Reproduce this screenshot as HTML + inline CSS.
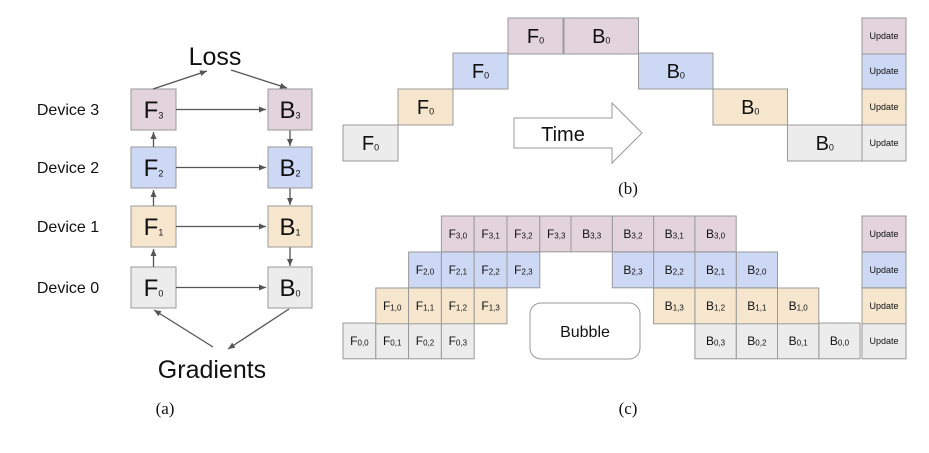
<!DOCTYPE html>
<html><head><meta charset="utf-8"><style>
html,body{margin:0;padding:0;background:#fff;}
svg{display:block;font-family:"Liberation Sans",sans-serif;}
</style></head><body>
<svg id="fig" width="929" height="453" viewBox="0 0 929 453" xmlns="http://www.w3.org/2000/svg">
<defs>
<marker id="ah" markerWidth="8" markerHeight="8" refX="7" refY="4" orient="auto" markerUnits="userSpaceOnUse">
<path d="M0,1 L7,4 L0,7 Z" fill="#555"/></marker>
</defs>
<g id="pa"></g>
<g id="pb"></g>
<g id="pc"></g>
</svg>
<script>
const NS="http://www.w3.org/2000/svg";
const colors=["#ececec","#f5e6cd","#ccd8f4","#e3d3dd"];
const devices=[0,1,2,3];
const microbatches=[0,1,2,3];
const fontFam='"Liberation Sans",sans-serif';

function mk(tag,attrs,parent){const e=document.createElementNS(NS,tag);for(const k in attrs)e.setAttribute(k,attrs[k]);parent.appendChild(e);return e;}
function box(parent,x,y,w,h,fill,letter,sub,fs,sfs,name){
  const g=mk('g',{},parent);
  
  
  mk('rect',{x:x,y:y,width:w,height:h,fill:fill,stroke:'#9a9a9a','stroke-width':1},g);
  const t=mk('text',{x:x+w/2,y:y+h/2+fs*0.36,'text-anchor':'middle','font-size':fs,fill:'#111'},g);
  t.appendChild(document.createTextNode(letter));
  if(sub!==null){const s=mk('tspan',{'font-size':sfs,dy:fs*0.02},t);s.textContent=sub;}
  return g;
}
function txt(parent,x,y,s,fs,anchor,name,fam){
  const t=mk('text',{x:x,y:y,'font-size':fs,'text-anchor':anchor||'middle',fill:'#111'},parent);
  if(fam)t.setAttribute('font-family',fam);
  
  
  t.textContent=s;return t;
}
function arrow(parent,x1,y1,x2,y2,name){
  const l=mk('line',{x1:x1,y1:y1,x2:x2,y2:y2,stroke:'#555','stroke-width':1.3,'marker-end':'url(#ah)'},parent);
  
  
}

/* Panel a */
const pa=document.getElementById('pa');
const aRowTop=[267,206,147,89];
for(const d of devices){
  const y=aRowTop[d];
  txt(pa,68,y+26,'Device '+d,16,'middle','device-'+d+'-label');
  box(pa,131,y,45,41,colors[d],'F',String(d),24,9,'forward-box-'+d);
  box(pa,268,y,44,41,colors[d],'B',String(d),24,9,'backward-box-'+d);
  arrow(pa,176,y+20.5,266,y+20.5,'f-to-b-arrow-'+d);
  if(d<3){
    arrow(pa,153.5,y,153.5,aRowTop[d+1]+43,'forward-up-arrow-'+d);
    arrow(pa,290,aRowTop[d+1]+41,290,y-1,'backward-down-arrow-'+d);
  }
}
txt(pa,215,65,'Loss',25,'middle','loss-label');
arrow(pa,153,89,207,71,'to-loss-arrow');
arrow(pa,231,70,287,88,'from-loss-arrow');
txt(pa,212,378,'Gradients',25,'middle','gradients-label');
arrow(pa,213,347,154,310,'gradient-to-f0-arrow');
arrow(pa,289,309,228,349,'gradient-from-b0-arrow');
txt(pa,165,414,'(a)',17,'middle','caption-a','"Liberation Serif",serif');

/* Panel b */
const pb=document.getElementById('pb');
const bRowTop=[125,89,53,18];
for(const d of devices){
  const y=bRowTop[d];
  box(pb,343+d*55,y,55,36,colors[d],'F','0',20,9,'naive-forward-'+d);
  box(pb,564+(3-d)*74.5,y,74.5,36,colors[d],'B','0',20,9,'naive-backward-'+d);
  box(pb,862,y,44,36,colors[d],'Update',null,9,9,'naive-update-'+d);
}
const ta=mk('path',{d:'M514,118 L612,118 L612,103 L642,133 L612,163 L612,148 L514,148 Z',fill:'#fff',stroke:'#999','stroke-width':1},pb);


txt(pb,563,141,'Time',20,'middle','time-label');
txt(pb,628,194,'(b)',17,'middle','caption-b','"Liberation Serif",serif');

/* Panel c */
const pc=document.getElementById('pc');
const cRowTop=[323,288,252,216];
const fw=32.8, bw=41.3, ch=35.8;
for(const d of devices){
  const y=cRowTop[d];
  for(const m of microbatches){
    box(pc,343+(d+m)*fw,y,fw,ch,colors[d],'F',d+','+m,12,8,'pipe-forward-'+d+'-'+m);
    box(pc,571+((3-d)+(3-m))*bw,y,bw,ch,colors[d],'B',d+','+m,12,8,'pipe-backward-'+d+'-'+m);
  }
  box(pc,862,y,44,ch,colors[d],'Update',null,9,9,'pipe-update-'+d);
}
const bub=mk('rect',{x:530,y:303,width:110,height:56,rx:11,ry:11,fill:'#fff',stroke:'#999','stroke-width':1},pc);


txt(pc,585,337,'Bubble',16,'middle','bubble-label');
txt(pc,628,414,'(c)',17,'middle','caption-c','"Liberation Serif",serif');
</script>
</body></html>
